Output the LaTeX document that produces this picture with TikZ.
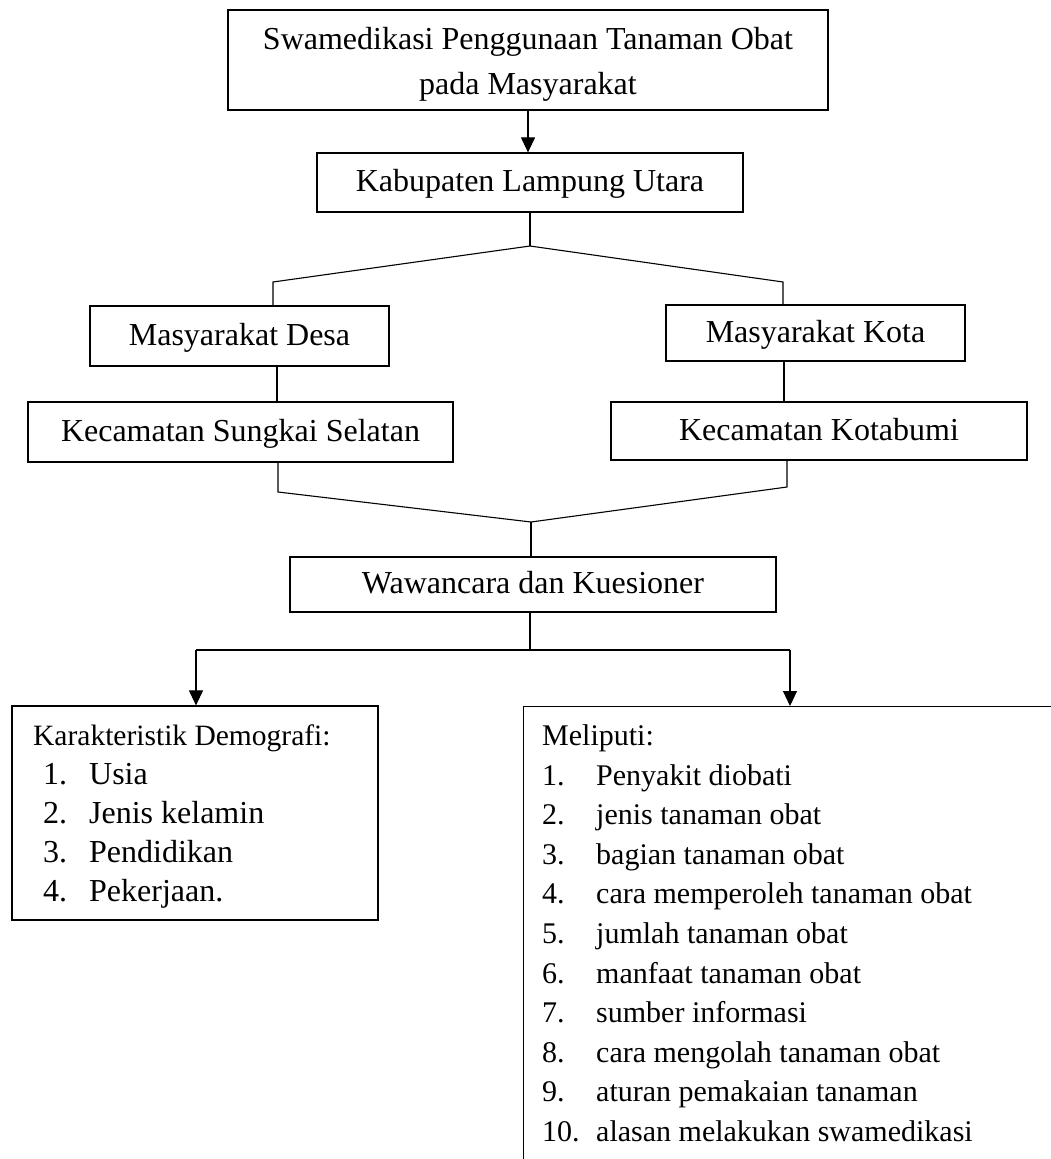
\documentclass[tikz,border=0pt]{standalone}
\usepackage{fontspec}
\setmainfont{Liberation Serif}
\usetikzlibrary{arrows.meta}
\tikzset{
  box/.style={draw, line width=1.2pt, rectangle, inner sep=0pt, font=\fontsize{32}{45}\selectfont, text height=24pt, text depth=6pt},
  txt/.style={inner sep=0pt, font=\fontsize{32}{45}\selectfont, align=center},
  conn/.style={line width=1.1pt},
  arr/.style={conn, -{Triangle[length=15pt,width=14pt]}},
  li/.style={anchor=base west, inner sep=0pt, font=\fontsize{30}{39.5}\selectfont},
  lib/.style={li, font=\fontsize{32}{39.5}\selectfont},
  lih/.style={li, font=\fontsize{29.5}{39.5}\selectfont}
}
\begin{document}
\begin{tikzpicture}[x=1pt, y=-1pt]
\useasboundingbox (0,0) rectangle (1051,1159);
\clip (0,0) rectangle (1051,1159);
% boxes
\node[box, minimum width=600pt, minimum height=100pt] (top) at (528,60) {};
\node[txt] (toptxt) at (528,64) {Swamedikasi Penggunaan Tanaman Obat\\pada Masyarakat};
\node[box, minimum width=426pt, minimum height=59pt] (kab) at (530,182.5) {Kabupaten Lampung Utara};
\node[box, minimum width=299pt, minimum height=60pt] (desa) at (239.5,336) {Masyarakat Desa};
\node[box, minimum width=299pt, minimum height=56pt] (kota) at (815.5,333) {Masyarakat Kota};
\node[box, minimum width=425pt, minimum height=60pt] (sungkai) at (240.5,432) {Kecamatan Sungkai Selatan};
\node[box, minimum width=416pt, minimum height=58pt] (kotabumi) at (819,431) {Kecamatan Kotabumi};
\node[box, minimum width=486pt, minimum height=55pt] (waw) at (533,584.5) {Wawancara dan Kuesioner};
\node[box, minimum width=366pt, minimum height=214pt] (lbox) at (195,813) {};
\node[box, anchor=north west, minimum width=560pt, minimum height=480pt] (rbox) at (523,706) {};
% helper coordinates
\coordinate (j1) at (530,246);
\coordinate (cL) at (273,282);
\coordinate (cR) at (783,282);
\coordinate (vL) at (277,0);
\coordinate (vR) at (784,0);
\coordinate (dL) at (278,492);
\coordinate (dR) at (787,487);
\coordinate (j2) at (531,522);
\coordinate (h) at (530,650);
\coordinate (hL) at (196,650);
\coordinate (hR) at (790,650);
% connectors
\draw[arr] (top.south) -- (top.south |- kab.north);
\draw[conn] (kab.south -| j1) -- (j1);
\draw[conn] (j1) -- (cL) -- (cL |- desa.north);
\draw[conn] (j1) -- (cR) -- (cR |- kota.north);
\draw[conn] (desa.south -| vL) -- (sungkai.north -| vL);
\draw[conn] (kota.south -| vR) -- (kotabumi.north -| vR);
\draw[conn] (sungkai.south -| dL) -- (dL) -- (j2);
\draw[conn] (kotabumi.south -| dR) -- (dR) -- (j2);
\draw[conn] (j2) -- (j2 |- waw.north);
\draw[conn] (waw.south -| h) -- (h);
\draw[conn] (hL) -- (hR);
\draw[arr] (hL) -- (hL |- lbox.north);
\draw[arr] (hR) -- (hR |- rbox.north);
% left list
\node[lih] (l0) at (33,745) {Karakteristik Demografi:};
\node[lib] (l1) at (43,784) {\makebox[46pt][l]{1.}Usia};
\node[lib] (l2) at (43,823) {\makebox[46pt][l]{2.}Jenis kelamin};
\node[lib] (l3) at (43,862) {\makebox[46pt][l]{3.}Pendidikan};
\node[lib] (l4) at (43,901) {\makebox[46pt][l]{4.}Pekerjaan.};
% right list
\node[li] (r0) at (542,745) {Meliputi:};
\node[li] (r1) at (542,785) {\makebox[54pt][l]{1.}Penyakit diobati};
\node[li] (r2) at (542,824.6) {\makebox[54pt][l]{2.}jenis tanaman obat};
\node[li] (r3) at (542,864.2) {\makebox[54pt][l]{3.}bagian tanaman obat};
\node[li] (r4) at (542,903.8) {\makebox[54pt][l]{4.}cara memperoleh tanaman obat};
\node[li] (r5) at (542,943.4) {\makebox[54pt][l]{5.}jumlah tanaman obat};
\node[li] (r6) at (542,983) {\makebox[54pt][l]{6.}manfaat tanaman obat};
\node[li] (r7) at (542,1022.6) {\makebox[54pt][l]{7.}sumber informasi};
\node[li] (r8) at (542,1062.2) {\makebox[54pt][l]{8.}cara mengolah tanaman obat};
\node[li] (r9) at (542,1101.8) {\makebox[54pt][l]{9.}aturan pemakaian tanaman};
\node[li] (r10) at (542,1141.4) {\makebox[54pt][l]{10.}alasan melakukan swamedikasi};
\end{tikzpicture}
\end{document}
